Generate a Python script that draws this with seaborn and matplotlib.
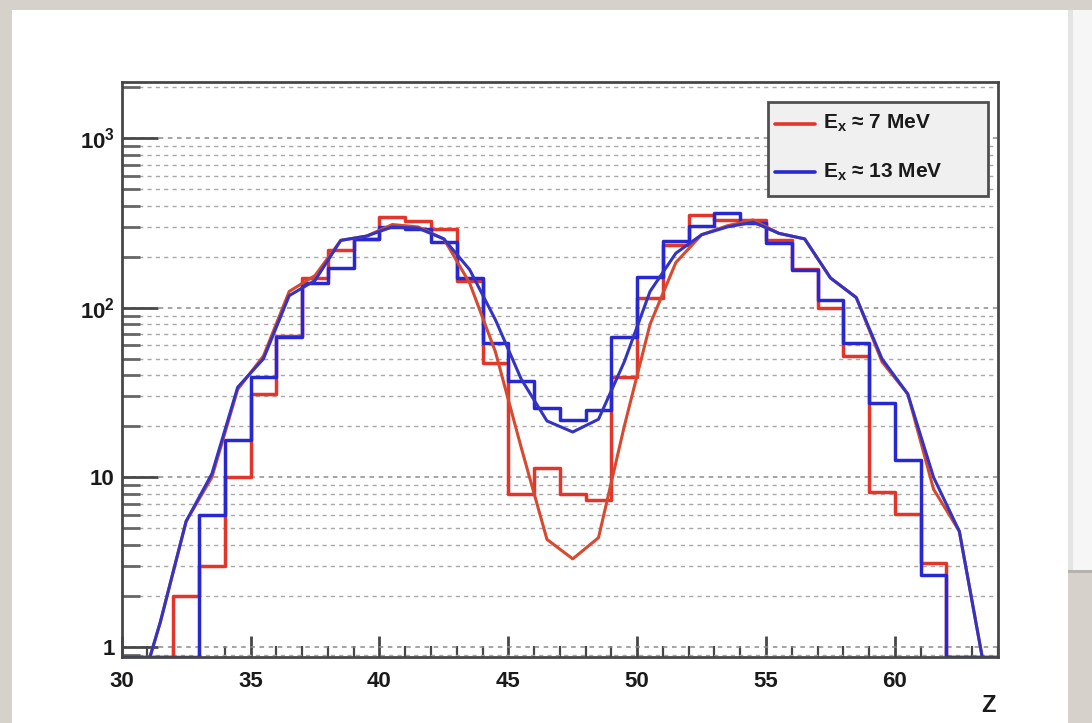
import numpy as np
import matplotlib
matplotlib.use("Agg")
import matplotlib.pyplot as plt
from matplotlib.patches import Rectangle
from matplotlib.lines import Line2D
import seaborn as sns

# ---------------- data ----------------
bin_edges = list(range(30, 65))                 # Z bin edges, width 1
z_centers = [e + 0.5 for e in range(30, 64)]    # bin centres for the smooth curves

red_hist = [0, 0, 2, 3, 10, 31, 68, 150, 220, 255,
            345, 325, 290, 143, 47, 8, 11.3, 8, 7.3, 39,
            114, 235, 354, 331, 330, 251, 170, 100, 52, 8.2,
            6.1, 3.1, 0, 0]
blue_hist = [0, 0, 0, 6, 16.6, 39, 67, 140, 171, 255,
             300, 290, 243, 150, 62, 37, 25.6, 21.8, 24.8, 67,
             153, 248, 302, 362, 318, 241, 168, 111, 62, 27.4,
             12.6, 2.66, 0, 0]

red_curve = [0.43, 1.4, 5.5, 10, 33, 52, 125, 155, 250, 265,
             310, 300, 255, 140, 55, 15, 4.3, 3.3, 4.4, 20,
             80, 185, 270, 305, 330, 275, 255, 150, 115, 48,
             31, 8.5, 4.8, 0.7]
blue_curve = [0.43, 1.4, 5.5, 10.5, 34, 50, 118, 145, 250, 265,
              300, 295, 255, 168, 85, 38, 21.5, 18.5, 22, 48,
              125, 210, 270, 300, 320, 275, 255, 150, 115, 50,
              31, 10, 4.8, 0.7]

x_ticks = [30, 35, 40, 45, 50, 55, 60]
y_major = [1, 10, 100, 1000]
y_major_labels = ["1", "10", r"$\mathbf{10^{2}}$", r"$\mathbf{10^{3}}$"]
y_minor = [0.9, 2, 3, 4, 5, 6, 7, 8, 9, 20, 30, 40, 50, 60, 70, 80, 90,
           200, 300, 400, 500, 600, 700, 800, 900, 2000]
legend_labels = [r"$\mathbf{E_x}$ ≈ 7 MeV", r"$\mathbf{E_x}$ ≈ 13 MeV"]
x_label = "Z"

# ---------------- style ----------------
sns.set_theme(style="white")
plt.rcParams["font.family"] = ["Liberation Sans", "DejaVu Sans"]
plt.rcParams["mathtext.fontset"] = "custom"
plt.rcParams["mathtext.rm"] = "Liberation Sans"
plt.rcParams["mathtext.bf"] = "Liberation Sans:bold"

RED_H = "#e4352a"
BLUE_H = "#2828d2"
RED_C = "#d54a30"
BLUE_C = "#3434c4"
FRAME = "#474747"

W, H = 1092, 723
fig = plt.figure(figsize=(W / 100, H / 100), dpi=100)
fig.patch.set_facecolor("#d6d2cb")

# paper cards behind the plot
fig.add_artist(Rectangle((1066 / W, 1 - 570 / H), 26 / W, 560 / H,
                         transform=fig.transFigure, facecolor="#f6f6f6",
                         edgecolor="none", zorder=-5))
fig.add_artist(Rectangle((1066 / W, 1 - 573 / H), 26 / W, 3 / H,
                         transform=fig.transFigure, facecolor="#b5b3b0",
                         edgecolor="none", zorder=-5))
fig.add_artist(Rectangle((1068 / W, 1 - 570 / H), 5 / W, 560 / H,
                         transform=fig.transFigure, facecolor="#e4e4e4",
                         edgecolor="none", zorder=-4))
fig.add_artist(Rectangle((12 / W, 0), 1056 / W, 1 - 10 / H,
                         transform=fig.transFigure, facecolor="white",
                         edgecolor="none", zorder=-3))

ax_left, ax_right, ax_top, ax_bottom = 121.7, 998, 82, 657
ax = fig.add_axes([ax_left / W, 1 - ax_bottom / H,
                   (ax_right - ax_left) / W, (ax_bottom - ax_top) / H])
ax.set_zorder(2)
ax.set_facecolor("white")
ax.set_yscale("log")
ymin, ymax = 0.87, 2150
ax.set_xlim(30, 64)
ax.set_ylim(ymin, ymax)

# grid (horizontal only)
ax.set_yticks(y_major)
ax.set_yticks(y_minor, minor=True)
ax.yaxis.grid(True, which="major", linestyle=(0, (3, 3)), color="#8c8c8c", lw=1.1, zorder=0)
ax.yaxis.grid(True, which="minor", linestyle=(0, (3, 3)), color="#a8a8a8", lw=1.0, zorder=0)
ax.xaxis.grid(False)

# histograms
edges = np.array(bin_edges, dtype=float)
for vals, col in [(red_hist, RED_H), (blue_hist, BLUE_H)]:
    v = np.maximum(np.array(vals, dtype=float), ymin)
    sns.lineplot(x=edges, y=np.append(v, v[-1]), drawstyle="steps-post",
                 color=col, lw=2.5, ax=ax, estimator=None, sort=False, zorder=3)

# smooth curves
for vals, col in [(red_curve, RED_C), (blue_curve, BLUE_C)]:
    sns.lineplot(x=z_centers, y=vals, color=col, lw=2.2, ax=ax,
                 estimator=None, sort=False, zorder=4)

ax.set_xlim(30, 64)
ax.set_ylim(ymin, ymax)

# axes cosmetics
for s in ax.spines.values():
    s.set_color(FRAME)
    s.set_linewidth(2)
    s.set_zorder(5)

ax.set_xticks(x_ticks)
ax.set_xticks(list(range(30, 65)), minor=True)
ax.set_xticklabels([str(t) for t in x_ticks])
ax.set_yticks(y_major)
ax.set_yticks(y_minor, minor=True)
ax.set_yticklabels(y_major_labels)
ax.set_yticklabels([], minor=True)
ax.tick_params(axis="both", which="both", bottom=True, left=True, top=False, right=False)
ax.tick_params(axis="x", which="major", direction="in", length=15, width=2,
               color=FRAME, pad=10, labelsize=16)
ax.tick_params(axis="x", which="minor", direction="in", length=8, width=1.6,
               color=FRAME)
ax.tick_params(axis="y", which="major", direction="in", length=26, width=2,
               color=FRAME, pad=5, labelsize=16)
ax.tick_params(axis="y", which="minor", direction="in", length=13, width=2,
               color="#666666")
for lab in ax.get_xticklabels() + ax.get_yticklabels():
    lab.set_fontweight("bold")
    lab.set_color("#1a1a1a")
ax.set_xlabel("")
ax.set_ylabel("")

fig.text(988 / W, 1 - 706 / H, x_label, ha="center", va="center",
         fontsize=17, fontweight="bold", color="#1a1a1a", zorder=10)

# legend box (drawn in axes coordinates)
def axx(px):
    return (px - ax_left) / (ax_right - ax_left)

def axy(py):
    return (ax_bottom - py) / (ax_bottom - ax_top)

ax.add_patch(Rectangle((axx(768), axy(196)), axx(988) - axx(768), axy(102) - axy(196),
                       transform=ax.transAxes, facecolor="#f0f0f0",
                       edgecolor="#505050", lw=2, zorder=6))
for lab, col, py in [(legend_labels[0], RED_H, 123.5), (legend_labels[1], BLUE_H, 172)]:
    ax.add_line(Line2D([axx(775), axx(815)], [axy(py), axy(py)], color=col, lw=2.6,
                       transform=ax.transAxes, zorder=7))
    ax.text(axx(823), axy(py), lab, transform=ax.transAxes, ha="left", va="center",
            fontsize=15, fontweight="bold", color="#1a1a1a", zorder=7)

fig.savefig("out.png", dpi=100, facecolor=fig.get_facecolor())
